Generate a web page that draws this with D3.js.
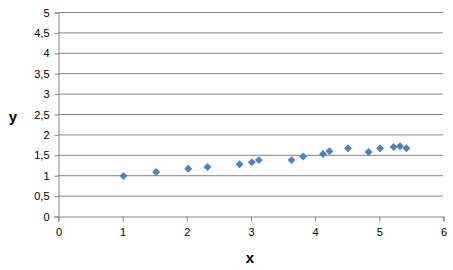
<!DOCTYPE html>
<html>
<head>
<meta charset="utf-8">
<script src="https://cdn.jsdelivr.net/npm/d3@7"></script>
<style>
  body { margin: 0; background: #fff; }
  text { font-family: "Liberation Sans", Arial, sans-serif; }
</style>
</head>
<body>
<svg id="chart" width="453" height="270"></svg>
<script>
// data
const xValues = [1.02, 1.53, 2.03, 2.33, 2.83, 3.02, 3.13, 3.64, 3.82, 4.13, 4.23, 4.52, 4.84, 5.02, 5.23, 5.33, 5.43];
const yValues = [0.98, 1.08, 1.16, 1.2, 1.27, 1.32, 1.37, 1.37, 1.46, 1.52, 1.59, 1.66, 1.57, 1.66, 1.69, 1.71, 1.66];
const xTicks = [0, 1, 2, 3, 4, 5, 6];
const yTicks = [0, 0.5, 1, 1.5, 2, 2.5, 3, 3.5, 4, 4.5, 5];

const svg = d3.select("#chart");
const plotLeft = 58, plotRight = 443, plotTop = 12, plotBottom = 216;
const gridColor = "#868686";

const x = d3.scaleLinear().domain([0, 6]).range([plotLeft, plotRight]);
const y = d3.scaleLinear().domain([0, 5]).range([plotBottom, plotTop]);

const fmt = (d) => String(d).replace(".", ",");

// horizontal gridlines
svg.append("g")
  .selectAll("line")
  .data(yTicks.filter((d) => d > 0))
  .enter()
  .append("line")
  .attr("x1", plotLeft)
  .attr("x2", plotRight)
  .attr("y1", (d) => y(d) + 0.5)
  .attr("y2", (d) => y(d) + 0.5)
  .attr("stroke", gridColor);

const yAxis = svg.append("g")
  .attr("transform", `translate(${plotLeft + 0.5},0.5)`)
  .call(d3.axisLeft(y).tickValues(yTicks).tickFormat(fmt).tickSize(4).tickPadding(5));

const xAxis = svg.append("g")
  .attr("transform", `translate(0.5,${plotBottom + 0.5})`)
  .call(d3.axisBottom(x).tickValues(xTicks).tickFormat(fmt).tickSize(5).tickPadding(7));

[yAxis, xAxis].forEach((a) => {
  a.select(".domain").attr("stroke", gridColor);
  a.selectAll(".tick line").attr("stroke", gridColor);
  a.selectAll(".tick text")
    .attr("fill", "#000")
    .style("font-size", "11px")
    .style("font-family", "'Liberation Sans', Arial, sans-serif");
});

// axis titles
svg.append("text")
  .attr("x", 13)
  .attr("y", 122)
  .attr("text-anchor", "middle")
  .style("font-size", "15px")
  .style("font-weight", "bold")
  .text("y");

svg.append("text")
  .attr("x", 250)
  .attr("y", 263)
  .attr("text-anchor", "middle")
  .style("font-size", "15px")
  .style("font-weight", "bold")
  .text("x");

// points
const points = xValues.map((v, i) => ({ x: v, y: yValues[i] }));
svg.append("g")
  .selectAll("path")
  .data(points)
  .enter()
  .append("path")
  .attr("d", d3.symbol().type(d3.symbolDiamond2).size(40))
  .attr("transform", (d) => `translate(${x(d.x)},${y(d.y)})`)
  .attr("fill", "#4F81BD");
</script>
</body>
</html>
